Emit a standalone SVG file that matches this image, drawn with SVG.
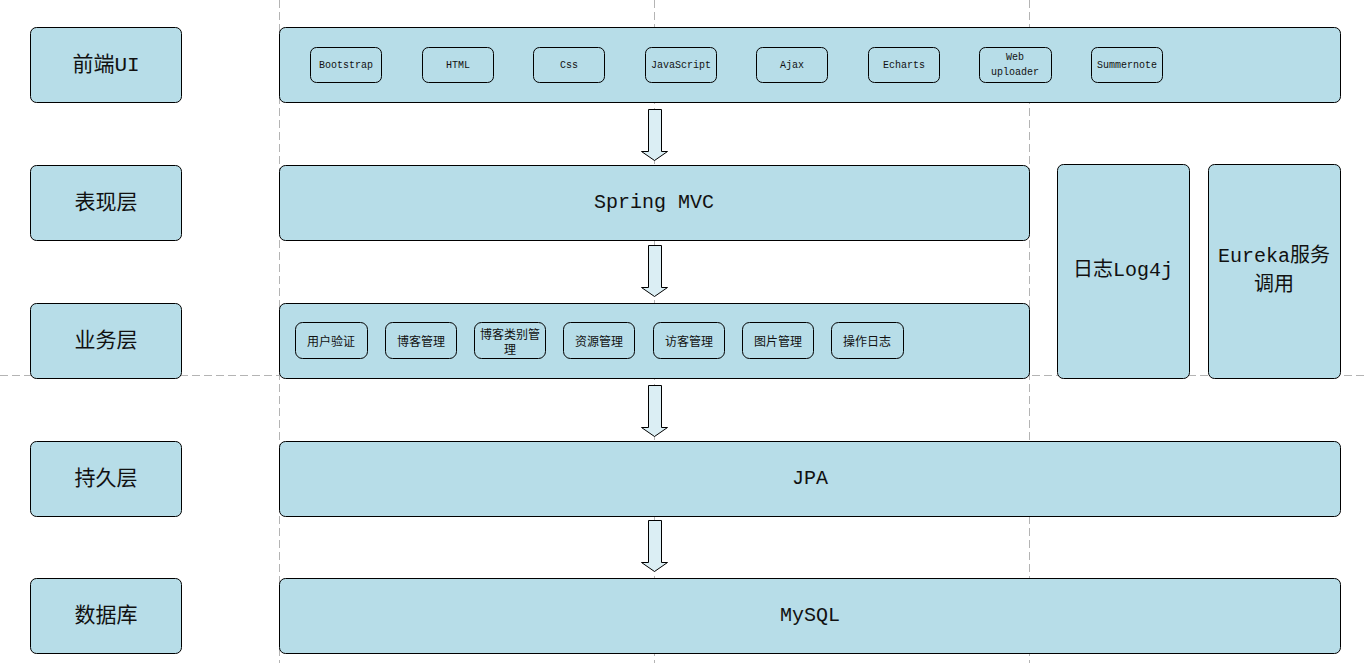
<svg xmlns="http://www.w3.org/2000/svg" width="1368" height="663" viewBox="0 0 1368 663">
<style>
.guide{stroke:#b4b4b4;stroke-width:1;stroke-dasharray:8 4;fill:none}
.box{fill:#b7dde8;stroke:#000;stroke-width:1}
.sub{fill:#b7dde8;stroke:#000;stroke-width:1}
.arrow{fill:#dbeef4;stroke:#000;stroke-width:1}
.lbl{font-family:"Liberation Mono","Noto Sans CJK SC",monospace;font-size:21px;fill:#111;text-anchor:middle;dominant-baseline:central}
.big{font-family:"Liberation Mono","Noto Sans CJK SC",monospace;font-size:20px;fill:#111;text-anchor:middle;dominant-baseline:central}
.tech{font-family:"Liberation Mono",monospace;font-size:10px;fill:#111;text-anchor:middle;dominant-baseline:central}
.biz{font-family:"Noto Sans CJK SC",sans-serif;font-size:12px;fill:#111;text-anchor:middle;dominant-baseline:central}
</style>
<rect width="1368" height="663" fill="#fff"/>
<g id="guides">
<line class="guide" x1="279.5" y1="0" x2="279.5" y2="663"/>
<line class="guide" x1="654.5" y1="0" x2="654.5" y2="663"/>
<line class="guide" x1="1029.5" y1="0" x2="1029.5" y2="663"/>
<line class="guide" x1="0" y1="375.5" x2="1368" y2="375.5"/>
</g>
<g id="layer-ui"><rect class="box" x="30.5" y="27.5" width="151" height="75" rx="6"/><text class="lbl" x="106" y="65">前端UI</text></g>
<g id="layer-view"><rect class="box" x="30.5" y="165.5" width="151" height="75" rx="6"/><text class="lbl" x="106" y="203">表现层</text></g>
<g id="layer-biz"><rect class="box" x="30.5" y="303.5" width="151" height="75" rx="6"/><text class="lbl" x="106" y="341">业务层</text></g>
<g id="layer-persist"><rect class="box" x="30.5" y="441.5" width="151" height="75" rx="6"/><text class="lbl" x="106" y="479">持久层</text></g>
<g id="layer-db"><rect class="box" x="30.5" y="578.5" width="151" height="75" rx="6"/><text class="lbl" x="106" y="616">数据库</text></g>

<g id="frontend"><rect class="box" x="279.5" y="27.5" width="1061" height="75" rx="6"/>
<rect class="sub" x="310.5" y="47.5" width="71" height="35" rx="6"/><text class="tech" x="346" y="65">Bootstrap</text>
<rect class="sub" x="422.5" y="47.5" width="71" height="35" rx="6"/><text class="tech" x="458" y="65">HTML</text>
<rect class="sub" x="533.5" y="47.5" width="71" height="35" rx="6"/><text class="tech" x="569" y="65">Css</text>
<rect class="sub" x="645.5" y="47.5" width="71" height="35" rx="6"/><text class="tech" x="681" y="65">JavaScript</text>
<rect class="sub" x="756.5" y="47.5" width="71" height="35" rx="6"/><text class="tech" x="792" y="65">Ajax</text>
<rect class="sub" x="868.5" y="47.5" width="71" height="35" rx="6"/><text class="tech" x="904" y="65">Echarts</text>
<rect class="sub" x="979.5" y="47.5" width="72" height="35" rx="6"/><text class="tech" x="1015" y="57">Web</text><text class="tech" x="1015" y="72">uploader</text>
<rect class="sub" x="1091.5" y="47.5" width="71" height="35" rx="6"/><text class="tech" x="1127" y="65">Summernote</text>
</g>
<g id="springmvc"><rect class="box" x="279.5" y="165.5" width="750" height="75" rx="6"/><text class="big" x="654" y="202">Spring MVC</text></g>
<g id="business"><rect class="box" x="279.5" y="303.5" width="750" height="75" rx="6"/>
<rect class="sub" x="295.5" y="322.5" width="72" height="36" rx="7"/><text class="biz" x="331" y="340">用户验证</text>
<rect class="sub" x="385.5" y="322.5" width="71" height="36" rx="7"/><text class="biz" x="421" y="340">博客管理</text>
<rect class="sub" x="474.5" y="322.5" width="71" height="36" rx="7"/><text class="biz" x="510" y="333">博客类别管</text><text class="biz" x="510" y="348">理</text>
<rect class="sub" x="563.5" y="322.5" width="71" height="36" rx="7"/><text class="biz" x="599" y="340">资源管理</text>
<rect class="sub" x="653.5" y="322.5" width="71" height="36" rx="7"/><text class="biz" x="689" y="340">访客管理</text>
<rect class="sub" x="742.5" y="322.5" width="71" height="36" rx="7"/><text class="biz" x="778" y="340">图片管理</text>
<rect class="sub" x="831.5" y="322.5" width="72" height="36" rx="7"/><text class="biz" x="867" y="340">操作日志</text>
</g>
<g id="log4j"><rect class="box" x="1057.5" y="164.5" width="132" height="214" rx="6"/><text class="big" x="1123" y="270">日志Log4j</text></g>
<g id="eureka"><rect class="box" x="1208.5" y="164.5" width="132" height="214" rx="6"/><text class="big" x="1274" y="256">Eureka服务</text><text class="big" x="1274" y="285">调用</text></g>
<g id="jpa"><rect class="box" x="279.5" y="441.5" width="1061" height="75" rx="6"/><text class="big" x="810" y="478">JPA</text></g>
<g id="mysql"><rect class="box" x="279.5" y="578.5" width="1061" height="75" rx="6"/><text class="big" x="810" y="615">MySQL</text></g>

<g id="connectors">
<path class="arrow" d="M648.5 109.5 H661.5 V151.5 H667.5 L654.5 160.5 L641.5 151.5 H648.5 Z"/>
<path class="arrow" d="M648.5 245.5 H661.5 V287.5 H667.5 L654.5 296.5 L641.5 287.5 H648.5 Z"/>
<path class="arrow" d="M648.5 385.5 H661.5 V427.5 H667.5 L654.5 436.5 L641.5 427.5 H648.5 Z"/>
<path class="arrow" d="M648.5 520.5 H661.5 V562.5 H667.5 L654.5 571.5 L641.5 562.5 H648.5 Z"/>
</g>
</svg>
